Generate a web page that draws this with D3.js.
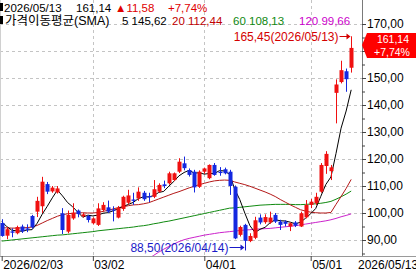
<!DOCTYPE html>
<html><head><meta charset="utf-8">
<script src="https://cdn.jsdelivr.net/npm/d3@7"></script>
<style>
html,body{margin:0;padding:0;background:#fff;}
svg{display:block;font-family:"Liberation Sans",Arial,"Noto Sans CJK KR",sans-serif;}
</style></head><body>
<svg id="c" width="416" height="275"></svg>
<script>
// ---- data ----
const holidays = ["2026-02-17", "2026-04-03"];
const openV = [96.3, 91.6, 93.2, 92.5, 95.0, 94.3, 98.9, 100.5, 102.5, 110.7,
  108.0, 107.6, 99.9, 93.1, 98.0, 100.9, 98.8, 98.9, 96.2, 95.6,
  101.1, 102.1, 101.3, 98.3, 101.5, 103.8, 105.0, 105.4, 107.5, 106.3,
  106.0, 107.9, 110.6, 111.0, 112.2, 115.3, 118.4, 115.9, 115.3, 109.7,
  115.3, 112.9, 117.8, 115.3, 116.2, 115.3, 109.7, 91.9, 95.6, 89.6,
  90.8, 98.3, 96.6, 96.5, 99.3, 96.8, 96.8, 95.0, 96.5, 95.0,
  98.4, 103.0, 103.6, 107.9, 117.4, 115.5, 144.5, 148.5, 152.5, 153.8];
const highV = [97.7, 94.8, 94.3, 95.3, 95.7, 95.8, 99.3, 106.0, 113.4, 111.5,
  110.0, 110.0, 101.8, 100.9, 103.6, 101.3, 100.0, 99.3, 98.4, 103.6,
  104.0, 104.6, 102.5, 102.6, 106.4, 108.6, 107.5, 109.5, 108.2, 107.5,
  112.2, 111.0, 112.0, 115.3, 115.0, 120.3, 120.9, 116.5, 116.0, 115.8,
  116.8, 118.0, 118.5, 117.0, 116.8, 116.0, 110.2, 95.3, 96.0, 92.5,
  98.6, 99.5, 99.5, 100.5, 100.0, 97.5, 97.3, 96.5, 97.0, 100.5,
  104.8, 105.2, 107.5, 118.5, 122.9, 117.8, 149.5, 156.4, 153.5, 165.45];
const lowV = [91.2, 90.3, 91.0, 92.1, 92.6, 92.9, 94.2, 98.5, 100.0, 107.0,
  107.5, 107.2, 92.2, 92.5, 97.5, 98.4, 98.3, 96.5, 95.8, 95.2,
  100.6, 100.0, 96.9, 98.0, 100.8, 103.2, 103.0, 104.5, 104.5, 104.0,
  105.5, 107.5, 109.2, 110.5, 111.8, 114.8, 115.8, 113.5, 107.6, 109.3,
  114.5, 112.5, 113.8, 113.8, 114.3, 106.7, 90.3, 91.3, 88.5, 89.2,
  90.3, 95.8, 96.0, 96.0, 96.3, 93.7, 95.0, 93.3, 94.8, 94.8,
  98.0, 101.8, 103.0, 107.5, 114.5, 112.2, 133.2, 148.0, 144.9, 152.0];
const closeV = [91.5, 94.0, 92.7, 94.8, 93.2, 93.8, 94.7, 104.5, 111.6, 107.9,
  109.4, 109.1, 93.7, 99.3, 100.1, 99.6, 99.5, 97.4, 98.0, 101.7,
  103.0, 100.5, 100.9, 101.9, 106.0, 106.5, 104.5, 107.9, 105.1, 105.8,
  108.8, 110.4, 110.0, 114.7, 114.7, 119.0, 116.6, 114.1, 109.5, 115.3,
  116.5, 117.8, 114.1, 114.8, 114.7, 110.0, 90.6, 94.8, 89.7, 91.5,
  97.3, 96.5, 98.5, 98.3, 96.8, 95.6, 96.0, 96.2, 95.3, 99.9,
  103.0, 104.2, 106.0, 117.8, 121.9, 116.9, 147.6, 152.9, 149.56, 161.14];
const ma5 = [96.8, 95.0, 93.6, 93.4, 93.24, 93.70, 93.84, 96.20, 99.56, 102.50,
  105.62, 108.50, 106.34, 103.88, 102.32, 100.36, 98.44, 99.18, 98.92, 99.24,
  99.92, 100.12, 100.82, 101.60, 102.46, 103.16, 103.96, 105.36, 106.00, 105.96,
  106.42, 107.60, 108.02, 109.94, 111.72, 113.76, 115.00, 115.82, 114.78, 114.90,
  114.40, 114.64, 114.64, 115.70, 115.58, 114.28, 108.84, 104.98, 99.96, 95.32,
  92.78, 93.96, 94.70, 96.42, 97.48, 97.14, 97.04, 96.58, 95.98, 96.60,
  98.08, 99.72, 101.68, 106.18, 110.58, 113.36, 122.04, 131.42, 137.77, 145.62];
const ma20 = [94.5, 94.5, 94.4, 94.4, 94.5, 94.6, 94.8, 95.4, 96.3, 97.2,
  98.0, 98.8, 99.4, 99.7, 99.9, 100.0, 100.1, 100.0, 100.0, 100.2,
  100.6, 101.0, 101.5, 102.0, 102.3, 102.7, 103.0, 103.1, 103.4, 103.8,
  104.5, 105.2, 105.9, 106.6, 107.3, 107.9, 108.6, 109.3, 109.9, 110.5,
  111.0, 111.5, 111.9, 112.1, 112.2, 112.1, 111.5, 111.0, 110.5, 109.9,
  109.2, 108.5, 107.8, 107.0, 106.1, 105.0, 104.0, 103.0, 102.1, 101.2,
  100.7, 100.3, 100.1, 100.0, 100.0, 100.2, 103.2, 106.1, 109.1, 112.44];
const ma60 = [89.6, 89.8, 90.0, 90.2, 90.4, 90.6, 90.8, 91.0, 91.2, 91.4,
  91.6, 91.8, 91.9, 92.1, 92.3, 92.5, 92.7, 92.9, 93.1, 93.4,
  93.6, 93.8, 94.0, 94.2, 94.4, 94.6, 94.8, 95.1, 95.3, 95.6,
  96.0, 96.3, 96.7, 97.0, 97.4, 97.8, 98.2, 98.6, 99.0, 99.4,
  99.8, 100.2, 100.6, 101.0, 101.4, 101.8, 101.9, 102.1, 102.3, 102.5,
  102.7, 102.9, 103.0, 103.1, 103.2, 103.2, 103.2, 103.2, 103.1, 103.1,
  103.2, 103.3, 103.4, 103.6, 103.9, 104.3, 105.1, 106.0, 107.0, 108.13];
const ma120 = [null, null, null, null, null, null, null, null, null, null,
  null, null, null, null, null, null, null, null, null, null,
  null, null, null, null, null, null, null, null, null, 83.0,
  84.3, 85.5, 86.6, 87.6, 88.5, 89.4, 90.1, 90.6, 91.0, 91.4,
  91.8, 92.1, 92.4, 92.7, 92.9, 93.1, 93.3, 93.5, 93.7, 93.8,
  94.0, 94.1, 94.2, 94.3, 94.5, 94.7, 94.9, 95.1, 95.3, 95.6,
  95.9, 96.2, 96.5, 96.8, 97.1, 97.5, 98.0, 98.6, 99.1, 99.66];
const yTicks = [90, 100, 110, 120, 130, 140, 150, 160, 170];
const maNames = ["5", "20", "60", "120"];
const maLast = ["145,62", "112,44", "108,13", "99,66"];

// ---- trading dates ----
const fmtKey = d3.timeFormat("%Y-%m-%d");
const dates = d3.timeDay.range(new Date(2026, 1, 3), new Date(2026, 4, 14))
  .filter(d => d.getDay() !== 0 && d.getDay() !== 6 && !holidays.includes(fmtKey(d)));
const N = dates.length;
const data = dates.map((d, i) => ({i, d, o: openV[i], h: highV[i], l: lowV[i], c: closeV[i]}));

const svg = d3.select("#c");
const W = 416, H = 275, plotR = 362, plotB = 256;
const x = d3.scaleLinear().domain([0, N - 1]).range([1.7, 351.2]);
const y = d3.scaleLinear().domain([90, 170]).range([240, 24]);
const RED = "#f01010", BLUE = "#1428e0";
const comma = v => d3.format(".2f")(v).replace(".", ",");

const lastC = closeV[N - 1], prevC = closeV[N - 2];
const chg = lastC - prevC, pct = chg / prevC * 100;
const py = Math.round(y(lastC));
const boxTop = py - 15, boxBot = py + 10;

svg.append("defs").append("clipPath").attr("id", "pc")
  .append("rect").attr("x", 0).attr("y", 0).attr("width", plotR).attr("height", plotB);

// grid
const grid = svg.append("g");
grid.selectAll("line.h").data(yTicks).join("line")
  .attr("x1", 0).attr("x2", plotR).attr("y1", d => Math.round(y(d)) + 0.5).attr("y2", d => Math.round(y(d)) + 0.5)
  .attr("stroke", "#c4c4c4").attr("stroke-dasharray", "3,3");
const monthStarts = data.filter((d, i) => i > 0 && d.d.getMonth() !== data[i - 1].d.getMonth()).map(d => d.i);
grid.selectAll("line.v").data(monthStarts).join("line")
  .attr("y1", 0).attr("y2", plotB).attr("x1", d => Math.round(x(d)) + 0.5).attr("x2", d => Math.round(x(d)) + 0.5)
  .attr("stroke", "#c4c4c4").attr("stroke-dasharray", "3,3");

// frame
svg.append("line").attr("x1", 0.5).attr("x2", 0.5).attr("y1", 0).attr("y2", plotB).attr("stroke", "#d0d0d0");

const plot = svg.append("g").attr("clip-path", "url(#pc)");

// moving averages
const maDefs = [[ma120, "#cc22cc"], [ma60, "#108a10"], [ma20, "#b41818"], [ma5, "#000000"]];
maDefs.forEach(([arr, col]) => {
  const ln = d3.line().defined(d => d != null).x((d, i) => x(i)).y(d => y(d));
  plot.append("path").attr("d", ln(arr)).attr("fill", "none").attr("stroke", col).attr("stroke-width", 1);
});

// candles
const cg = plot.append("g");
data.forEach(d => {
  const up = d.c >= d.o;
  const col = up ? RED : BLUE;
  const cx = Math.round(x(d.i));
  cg.append("line").attr("x1", cx + 0.5).attr("x2", cx + 0.5).attr("y1", y(d.h)).attr("y2", y(d.l))
    .attr("stroke", col).attr("stroke-width", 1);
  const top = y(Math.max(d.o, d.c)), bot = y(Math.min(d.o, d.c));
  cg.append("rect").attr("x", cx - 1.5).attr("y", top).attr("width", 4).attr("height", Math.max(1, bot - top))
    .attr("fill", col);
});

// high / low markers
const hiIdx = d3.maxIndex(highV), loIdx = d3.minIndex(lowV);
const fmtD = d3.timeFormat("%Y/%m/%d");
const hx = Math.round(x(hiIdx)) + 0.5, hy = y(highV[hiIdx]);
svg.append("text").attr("x", hx - 13).attr("y", hy + 4.5).attr("text-anchor", "end")
  .attr("font-size", 12).attr("fill", "#d40000").text(comma(highV[hiIdx]) + "(" + fmtD(dates[hiIdx]) + ")");
svg.append("line").attr("x1", hx - 12).attr("x2", hx - 2).attr("y1", Math.round(hy) + 0.5).attr("y2", Math.round(hy) + 0.5).attr("stroke", "#d40000");
svg.append("path").attr("d", `M${hx - 1},${Math.round(hy) + 0.5} l-4,-3 l0,6 z`).attr("fill", "#d40000");

const lx = Math.round(x(loIdx)) + 0.5, ly = y(lowV[loIdx]);
const lay = Math.round(ly) + 3.5;
svg.append("text").attr("x", lx - 17).attr("y", lay + 4).attr("text-anchor", "end")
  .attr("font-size", 12).attr("fill", "#1a1ac8").text(comma(lowV[loIdx]) + "(" + fmtD(dates[loIdx]) + ")");
svg.append("line").attr("x1", lx - 16).attr("x2", lx - 2).attr("y1", lay).attr("y2", lay).attr("stroke", "#1a1ac8");
svg.append("path").attr("d", `M${lx - 1},${lay} l-4,-3 l0,6 z`).attr("fill", "#1a1ac8");
svg.append("line").attr("x1", lx).attr("x2", lx).attr("y1", ly).attr("y2", lay + 3).attr("stroke", "#1a1ac8");

// right axis (labels that sit under the last-price box are covered by it, as in the reference)
svg.append("line").attr("x1", plotR + 0.5).attr("x2", plotR + 0.5).attr("y1", 0).attr("y2", plotB).attr("stroke", "#7a7a7a");
const covered = v => y(v) > boxTop - 6 && y(v) < boxBot + 6;
const yAxis = d3.axisRight(y).tickValues(yTicks).tickFormat(v => covered(v) ? "" : comma(v)).tickSize(4).tickPadding(1);
const ya = svg.append("g").attr("transform", `translate(${plotR},0)`).call(yAxis);
ya.select(".domain").remove();
ya.selectAll("text").attr("font-size", 12).attr("fill", "#000").attr("font-family", "Liberation Sans, Arial, sans-serif");
ya.selectAll("line").attr("stroke", "#444");
const minorY = d3.range(85, 171, 5).filter(v => v % 10 !== 0);
const ym = svg.append("g").attr("transform", `translate(${plotR},0)`)
  .call(d3.axisRight(y).tickValues(minorY).tickFormat("").tickSize(3));
ym.select(".domain").remove();
ym.selectAll("line").attr("stroke", "#444");

// bottom axis
svg.append("line").attr("x1", 0).attr("x2", W).attr("y1", plotB + 0.5).attr("y2", plotB + 0.5).attr("stroke", "#9a9a9a");
const xTicks = [0].concat(monthStarts);
const fmtM = d3.timeFormat("%m/%d");
const xAxis = d3.axisBottom(x).tickValues(xTicks)
  .tickFormat(i => i === 0 ? fmtD(dates[i]) : fmtM(dates[i])).tickSize(5).tickPadding(0);
const xa = svg.append("g").attr("transform", `translate(0,${plotB})`).call(xAxis);
xa.select(".domain").remove();
xa.selectAll("line").attr("stroke", "#444");
xa.selectAll("text").attr("font-size", 12).attr("fill", "#000").attr("text-anchor", "start").attr("dx", 1)
  .attr("y", 4).attr("font-family", "Liberation Sans, Arial, sans-serif");
svg.append("text").attr("x", 358).attr("y", 268.5).attr("font-size", 12).attr("fill", "#000").text(fmtD(dates[N - 1]));

// last price box
svg.append("path").attr("d", `M${plotR},${py - 3} L367,${boxTop} L416,${boxTop} L416,${boxBot} L367,${boxBot} Z`).attr("fill", "#ff0000");
svg.append("text").attr("x", 393).attr("y", py - 5).attr("text-anchor", "middle").attr("font-size", 10.5).attr("fill", "#fff").text(comma(lastC));
svg.append("text").attr("x", 392).attr("y", py + 7.5).attr("text-anchor", "middle").attr("font-size", 10.5).attr("fill", "#fff").text("+" + comma(pct) + "%");

// header
const hdr = svg.append("g").attr("font-size", 11.5);
hdr.append("rect").attr("x", 0).attr("y", 3).attr("width", 3).attr("height", 8).attr("fill", "#000");
hdr.append("rect").attr("x", 0).attr("y", 16).attr("width", 3).attr("height", 8).attr("fill", "#000");
hdr.append("text").attr("x", 4).attr("y", 12).attr("fill", "#000").text(fmtD(dates[N - 1]));
hdr.append("text").attr("x", 76).attr("y", 12).attr("fill", "#000").text(comma(lastC));
hdr.append("text").attr("x", 115).attr("y", 12).attr("fill", "#e00000").text("\u25B2" + comma(chg));
hdr.append("text").attr("x", 168).attr("y", 12).attr("fill", "#e00000").text("+" + comma(pct) + "%");
hdr.append("text").attr("x", 5).attr("y", 25).attr("font-size", 12.5).attr("fill", "#000").text("가격이동평균(SMA)");
const maX = [122, 172, 233, 299], maCol = ["#000000", "#c00000", "#108a10", "#cc00cc"];
maNames.forEach((n, k) => {
  hdr.append("text").attr("x", maX[k]).attr("y", 25).attr("fill", maCol[k]).text(n + " " + maLast[k]);
});
</script>
</body></html>
